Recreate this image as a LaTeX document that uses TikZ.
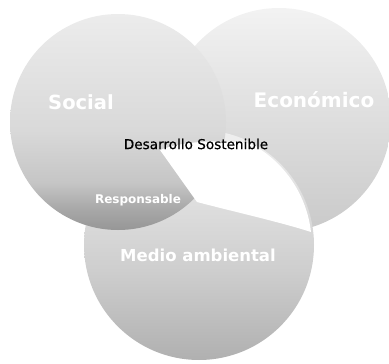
\documentclass[tikz,border=0pt]{standalone}
\usepackage{fontspec}
\setmainfont{DejaVu Sans}
\newfontfamily\semibfont[FakeBold=0.5]{DejaVu Sans}
\pgfdeclareverticalshading{socshade}{100bp}{color(0bp)=(gray!82); color(25bp)=(gray!82); color(30bp)=(gray!68); color(36bp)=(gray!45); color(48bp)=(gray!30); color(75bp)=(gray!15); color(100bp)=(gray!15)}
\pgfdeclareverticalshading{medshade}{100bp}{color(0bp)=(gray!62); color(25bp)=(gray!62); color(45bp)=(gray!38); color(75bp)=(gray!12); color(100bp)=(gray!12)}
\begin{document}
\begin{tikzpicture}[x=1pt,y=-1pt,
  sphere/.style={circle,inner sep=0pt,minimum size=#1},
  whitelbl/.style={text=white,font=\bfseries\fontsize{#1}{#1}\selectfont,inner sep=0pt},
  darklbl/.style={text=black,font=\semibfont\fontsize{#1}{#1}\selectfont,inner sep=0pt}]
\useasboundingbox (0,0) rectangle (389,364);
% spheres
\node[sphere=224pt,top color=gray!10,bottom color=gray!42] (eco) at (279,120) {};
\node[sphere=230pt,shading=medshade] (med) at (199,245) {};
\node[sphere=216pt,shading=socshade] (soc) at (118,122) {};
% white central region (clipped fill)
\begin{scope}
  \clip (160,150) coordinate (w1) -- (197,202) coordinate (tip)
    .. controls (235,212) and (280,222) .. (311,232)
    arc[start angle=-6.6,end angle=-62,radius=115]
    .. controls (225,140) and (185,140) .. (w1) -- cycle;
  \fill[white] (150,130) rectangle (320,240);
\end{scope}
% labels
\node[whitelbl=19.5] (tsoc) at (81,102) {Social};
\node[whitelbl=20] (teco) at (314,100) {Económico};
\node[darklbl=13.6] (tdes) at (196,144) {Desarrollo Sostenible};
\node[whitelbl=12] (tres) at (138,200) {Responsable};
\node[whitelbl=16.5] (tmed) at (198,255) {Medio ambiental};
\end{tikzpicture}
\end{document}
